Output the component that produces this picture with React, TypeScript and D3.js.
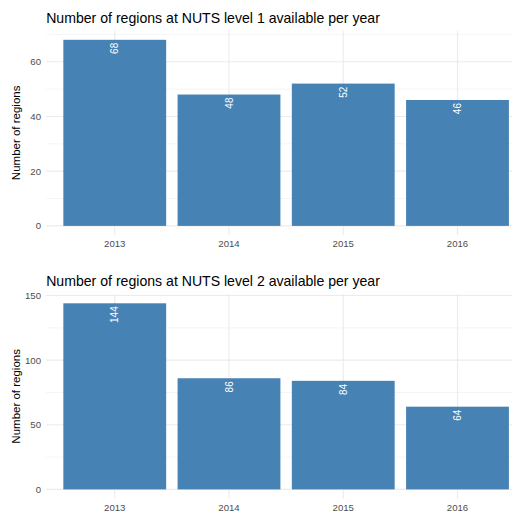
import React from "react";
import * as d3 from "d3";

const years = ["2013", "2014", "2015", "2016"];
const nuts1Counts = [68, 48, 52, 46];
const nuts2Counts = [144, 86, 84, 64];
const titles = [
  "Number of regions at NUTS level 1 available per year",
  "Number of regions at NUTS level 2 available per year",
];
const nuts1Ticks = [0, 20, 40, 60];
const nuts1Minor = [10, 30, 50, 70];
const nuts2Ticks = [0, 50, 100, 150];
const nuts2Minor = [25, 75, 125];
const yLabel = "Number of regions";

const FONT = "'Liberation Sans', Arial, sans-serif";
const BAR = "#4682B4";

type PanelProps = {
  top: number;
  title: string;
  values: number[];
  ticks: number[];
  minor: number[];
};

function Panel({ top, title, values, ticks, minor }: PanelProps) {
  const left = 46.2;
  const panelTop = top + 30.5;
  const panelBottom = top + 235.2;
  const maxV = d3.max(values) as number;
  const pad = maxV * 0.05;
  const y = d3.scaleLinear().domain([-pad, maxV + pad]).range([panelBottom, panelTop]);
  const x = d3
    .scaleBand<string>()
    .domain(years)
    .range([left, left + 4.2 * 114.25])
    .paddingInner(0.1)
    .paddingOuter(0.15);
  const minorVis = minor.filter((m) => y(m) >= panelTop - 0.5);
  return (
    <g>
      <text x={left} y={top + 22.5} fontSize={14.1} fill="#000" fontFamily={FONT}>
        {title}
      </text>
      {minorVis.map((m) => (
        <line key={"mi" + m} x1={left} x2={512} y1={y(m)} y2={y(m)} stroke="#ebebeb" strokeWidth={0.55} />
      ))}
      {ticks.map((t) => (
        <line key={"ma" + t} x1={left} x2={512} y1={y(t)} y2={y(t)} stroke="#ebebeb" strokeWidth={1.1} />
      ))}
      {years.map((yr) => (
        <line
          key={"v" + yr}
          x1={(x(yr) as number) + x.bandwidth() / 2}
          x2={(x(yr) as number) + x.bandwidth() / 2}
          y1={panelTop}
          y2={panelBottom}
          stroke="#ebebeb"
          strokeWidth={1.1}
        />
      ))}
      {values.map((v, i) => (
        <rect
          key={"b" + i}
          x={x(years[i]) as number}
          width={x.bandwidth()}
          y={y(v)}
          height={y(0) - y(v)}
          fill={BAR}
        />
      ))}
      {values.map((v, i) => {
        const cx = (x(years[i]) as number) + x.bandwidth() / 2;
        const cy = y(v) + 3;
        return (
          <text
            key={"l" + i}
            transform={`translate(${cx},${cy}) rotate(-90)`}
            textAnchor="end"
            dy="0.35em"
            fontSize={10}
            fill="#fff"
            fontFamily={FONT}
          >
            {v}
          </text>
        );
      })}
      {ticks.map((t) => (
        <text
          key={"yt" + t}
          x={41}
          y={y(t)}
          dy="0.35em"
          textAnchor="end"
          fontSize={9.6}
          fill="#4d4d4d"
          fontFamily={FONT}
        >
          {t}
        </text>
      ))}
      {years.map((yr) => (
        <text
          key={"xt" + yr}
          x={(x(yr) as number) + x.bandwidth() / 2}
          y={top + 247.4}
          textAnchor="middle"
          fontSize={9.6}
          fill="#4d4d4d"
          fontFamily={FONT}
        >
          {yr}
        </text>
      ))}
      <text
        transform={`translate(${19.8},${(panelTop + panelBottom) / 2}) rotate(-90)`}
        textAnchor="middle"
        fontSize={11.5}
        fill="#000"
        fontFamily={FONT}
      >
        {yLabel}
      </text>
    </g>
  );
}

export default function App() {
  return (
    <svg
      width={512}
      height={512}
      style={{ position: "absolute", left: 0, top: 0, background: "#fff" }}
    >
      <rect width={512} height={512} fill="#fff" />
      <Panel top={0} title={titles[0]} values={nuts1Counts} ticks={nuts1Ticks} minor={nuts1Minor} />
      <Panel top={263.5} title={titles[1]} values={nuts2Counts} ticks={nuts2Ticks} minor={nuts2Minor} />
    </svg>
  );
}
